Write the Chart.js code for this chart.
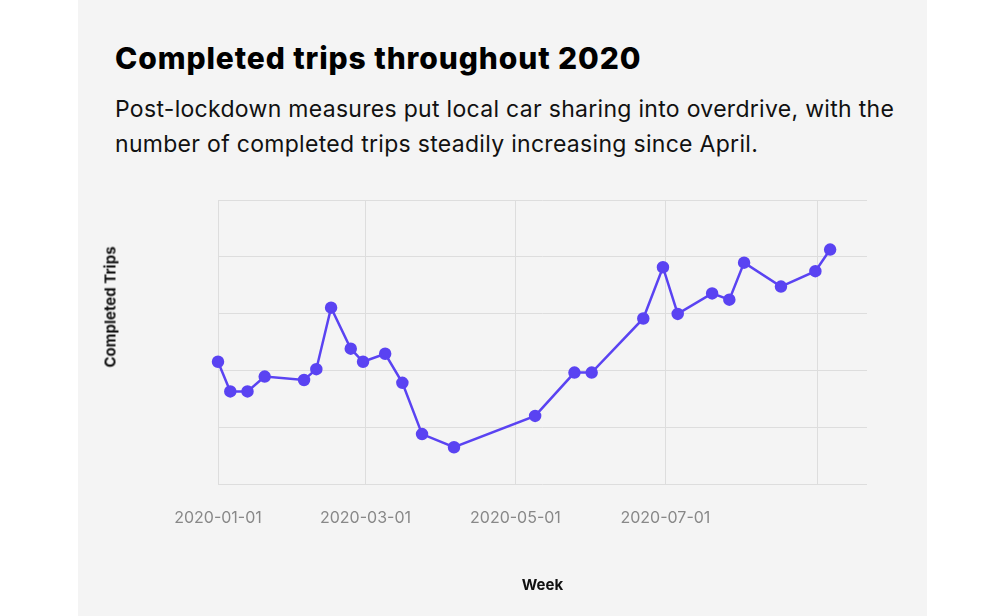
<!DOCTYPE html>
<html>
<head>
<meta charset="utf-8">
<script src="https://cdn.jsdelivr.net/npm/chart.js@4"></script>
<style>
  body { margin: 0; background: #fff; font-family: Inter, "Open Sans", sans-serif; }
  #panel { position: absolute; left: 78px; top: 0; width: 849px; height: 616px; background: #f4f4f4; }
  h1 { position: absolute; left: 37px; top: 40px; margin: 0; font-size: 30px; font-weight: 800; color: #000; letter-spacing: 0.9px; }
  p { position: absolute; left: 37px; top: 92px; margin: 0; width: 780px; font-size: 23px; line-height: 35px; color: #111; letter-spacing: 0.3px; }
  #wrap { position: absolute; left: 0; top: 190px; width: 849px; height: 416px; }
  #ytitle { position: absolute; left: 32px; top: 307px; transform: translate(-50%, -50%) rotate(-90deg); font-size: 15px; font-weight: bold; color: #111; white-space: nowrap; }
</style>
</head>
<body>
<div id="panel">
  <h1>Completed trips throughout 2020</h1>
  <p>Post-lockdown measures put local car sharing into overdrive, with the number of completed trips steadily increasing since April.</p>
  <div id="wrap"><canvas id="chart"></canvas></div>
  <div id="ytitle">Completed Trips</div>
</div>
<script>
// days since 2020-01-01 for each weekly point
const weekDays = [0, 5, 12, 19, 35, 40, 46, 54, 59, 68, 75, 83, 96, 129, 145, 152, 173, 181, 187, 201, 208, 214, 229, 243, 249];
const trips = [2.16, 1.64, 1.64, 1.90, 1.84, 2.03, 3.11, 2.39, 2.16, 2.30, 1.79, 0.89, 0.66, 1.21, 1.97, 1.97, 2.92, 3.82, 3.0, 3.36, 3.25, 3.90, 3.48, 3.75, 4.13];
const tickDays = [0, 60, 121, 182, 244];
const tickLabels = ['2020-01-01', '2020-03-01', '2020-05-01', '2020-07-01', ''];

const pts = weekDays.map((d, i) => ({ x: d, y: trips[i] }));

new Chart(document.getElementById('chart').getContext('2d'), {
  type: 'line',
  data: {
    datasets: [{
      data: pts,
      borderColor: '#5a43f2',
      backgroundColor: '#5a43f2',
      borderWidth: 2.5,
      pointRadius: 5,
      tension: 0,
      clip: false
    }]
  },
  options: {
    responsive: true,
    maintainAspectRatio: false,
    animation: false,
    layout: { padding: { left: 14, right: 60, top: 10, bottom: 8 } },
    plugins: { legend: { display: false }, tooltip: { enabled: false } },
    scales: {
      x: {
        type: 'linear',
        min: 0,
        max: 264,
        afterBuildTicks: (axis) => { axis.ticks = tickDays.map(v => ({ value: v })); },
        ticks: {
          autoSkip: false,
          maxRotation: 0,
          padding: 24,
          color: '#888',
          font: { size: 16, family: 'Inter' },
          callback: (v) => tickLabels[tickDays.indexOf(v)] ?? ''
        },
        grid: { color: '#ddd', drawTicks: false },
        border: { display: false },
        title: { display: true, text: 'Week', color: '#111', font: { size: 15, weight: 'bold', family: 'Inter' }, padding: { top: 24 } }
      },
      y: {
        min: 0,
        max: 5,
        ticks: { stepSize: 1, display: false },
        grid: { color: '#ddd', drawTicks: false },
        border: { display: false },
        afterFit: (axis) => { axis.width = 126; }
      }
    }
  }
});
</script>
</body>
</html>
